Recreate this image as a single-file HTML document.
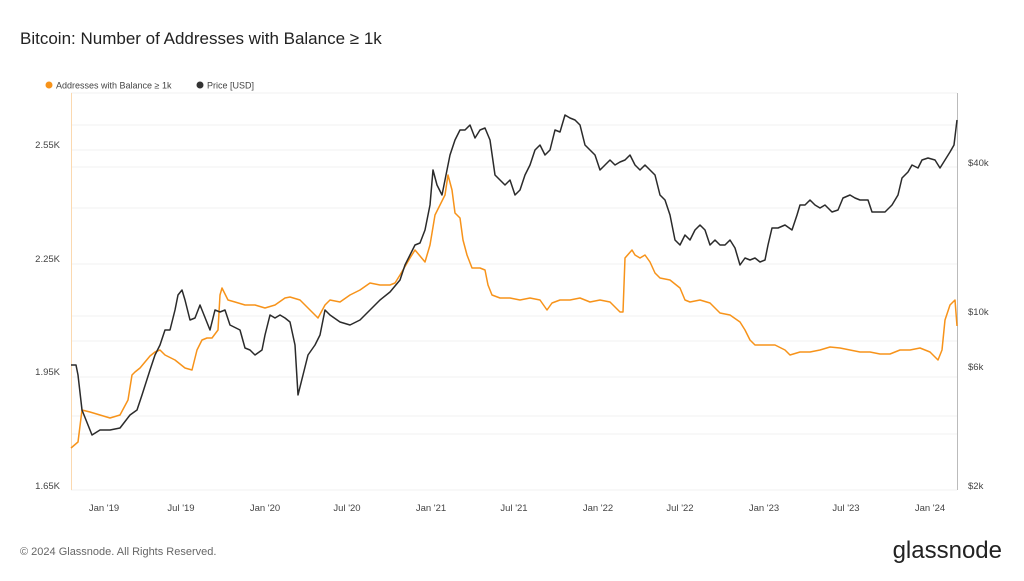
<!DOCTYPE html>
<html><head><meta charset="utf-8"><style>
body{margin:0;background:#fff;font-family:"Liberation Sans",sans-serif;}
</style></head><body>
<svg width="1024" height="576" xmlns="http://www.w3.org/2000/svg" font-family="Liberation Sans, sans-serif">
<rect width="1024" height="576" fill="#fff"/>
<text x="20" y="44" font-size="17" fill="#222">Bitcoin: Number of Addresses with Balance ≥ 1k</text>
<circle cx="49" cy="85" r="3.5" fill="#f7931a"/>
<text x="56" y="88.5" font-size="9" fill="#444">Addresses with Balance ≥ 1k</text>
<circle cx="200" cy="85" r="3.5" fill="#333"/>
<text x="207" y="88.5" font-size="9" fill="#444">Price [USD]</text>
<g stroke="#f0f0f0" stroke-width="1">
<line x1="71" y1="93" x2="957" y2="93"/>
<line x1="71" y1="125" x2="957" y2="125"/>
<line x1="71" y1="150" x2="957" y2="150"/>
<line x1="71" y1="167" x2="957" y2="167"/>
<line x1="71" y1="208" x2="957" y2="208"/>
<line x1="71" y1="264" x2="957" y2="264"/>
<line x1="71" y1="316" x2="957" y2="316"/>
<line x1="71" y1="341" x2="957" y2="341"/>
<line x1="71" y1="377" x2="957" y2="377"/>
<line x1="71" y1="416" x2="957" y2="416"/>
<line x1="71" y1="434" x2="957" y2="434"/>
<line x1="71" y1="490" x2="957" y2="490"/>
</g>
<line x1="71.5" y1="93" x2="71.5" y2="490" stroke="#fbd9b0"/>
<line x1="957.5" y1="93" x2="957.5" y2="490" stroke="#bbb"/>
<g font-size="9.5" fill="#444" text-anchor="end">
<text x="60" y="148">2.55K</text><text x="60" y="262">2.25K</text><text x="60" y="375">1.95K</text><text x="60" y="489">1.65K</text>
</g>
<g font-size="9.5" fill="#444">
<text x="968" y="166">$40k</text><text x="968" y="315">$10k</text><text x="968" y="370">$6k</text><text x="968" y="489">$2k</text>
</g>
<g font-size="9.5" fill="#444" text-anchor="middle">
<text x="104" y="511">Jan '19</text><text x="181" y="511">Jul '19</text><text x="265" y="511">Jan '20</text><text x="347" y="511">Jul '20</text><text x="431" y="511">Jan '21</text><text x="514" y="511">Jul '21</text><text x="598" y="511">Jan '22</text><text x="680" y="511">Jul '22</text><text x="764" y="511">Jan '23</text><text x="846" y="511">Jul '23</text><text x="930" y="511">Jan '24</text>
</g>
<polyline fill="none" stroke="#f7931a" stroke-width="1.5" stroke-linejoin="round" points="71,448 78,442 82,410 90,412 100,415 110,418 120,415 128,400 132,375 135,372 140,368 145,362 150,356 155,352 160,350 165,355 175,360 185,368 192,370 197,350 202,340 207,338 212,338 218,330 220,295 222,288 228,300 235,302 245,305 255,305 265,308 275,305 285,298 290,297 300,300 310,310 318,318 325,305 330,300 340,302 350,295 360,290 370,283 380,285 390,285 395,283 400,275 410,258 415,250 420,256 425,262 430,245 435,215 440,205 445,195 448,175 452,190 455,213 460,218 463,240 467,255 472,268 480,268 485,270 488,285 492,295 500,298 510,298 520,300 530,298 540,300 547,310 552,303 560,300 570,300 580,298 590,302 600,300 610,302 620,312 623,312 625,258 632,250 635,255 640,258 645,255 650,262 655,273 660,278 670,280 680,288 685,300 690,302 700,300 710,303 720,313 730,315 740,322 745,330 750,340 755,345 765,345 775,345 785,350 790,355 800,352 810,352 820,350 830,347 840,348 850,350 860,352 870,352 880,354 890,354 900,350 910,350 920,348 930,352 938,360 942,350 945,320 950,305 955,300 957,326"/>
<polyline fill="none" stroke="#2b2b2b" stroke-width="1.5" stroke-linejoin="round" points="71,365 76,365 78,375 82,410 86,420 92,435 100,430 110,430 120,428 130,415 137,410 142,395 150,370 155,355 160,345 165,330 170,330 175,310 178,295 182,290 185,300 190,320 195,318 200,305 210,330 215,310 220,312 225,310 230,325 240,330 245,348 250,350 255,355 262,350 265,335 270,315 275,318 280,315 285,318 290,322 295,345 298,395 303,375 308,355 315,345 320,335 325,310 330,315 340,322 350,325 360,320 370,310 380,300 390,292 400,280 405,265 410,255 415,245 420,243 425,230 430,205 433,170 437,185 442,195 447,170 450,155 455,140 460,130 465,130 470,125 475,138 480,130 485,128 490,140 495,175 500,180 505,185 510,180 515,195 520,190 525,175 530,165 535,150 540,145 545,155 550,150 555,130 560,132 565,115 570,118 575,120 580,125 585,145 590,150 595,155 600,170 605,165 610,160 615,165 620,162 625,160 630,155 635,165 640,170 645,165 650,170 655,175 660,195 665,200 670,215 675,240 680,245 685,235 690,240 695,230 700,225 705,230 710,245 715,240 720,245 725,245 730,240 735,248 740,265 745,258 750,260 755,258 760,262 765,260 768,245 772,228 778,228 785,225 792,230 797,215 800,205 805,205 810,200 815,205 820,208 825,205 832,212 838,210 843,198 850,195 855,198 860,200 868,200 872,212 878,212 885,212 892,205 898,195 902,178 908,172 912,165 918,168 922,160 928,158 935,160 940,168 945,160 950,152 954,145 957,120"/>
<text x="20" y="555" font-size="11" fill="#666">© 2024 Glassnode. All Rights Reserved.</text>
<text x="1002" y="558" font-size="24" fill="#222" text-anchor="end">glassnode</text>
</svg>
</body></html>
